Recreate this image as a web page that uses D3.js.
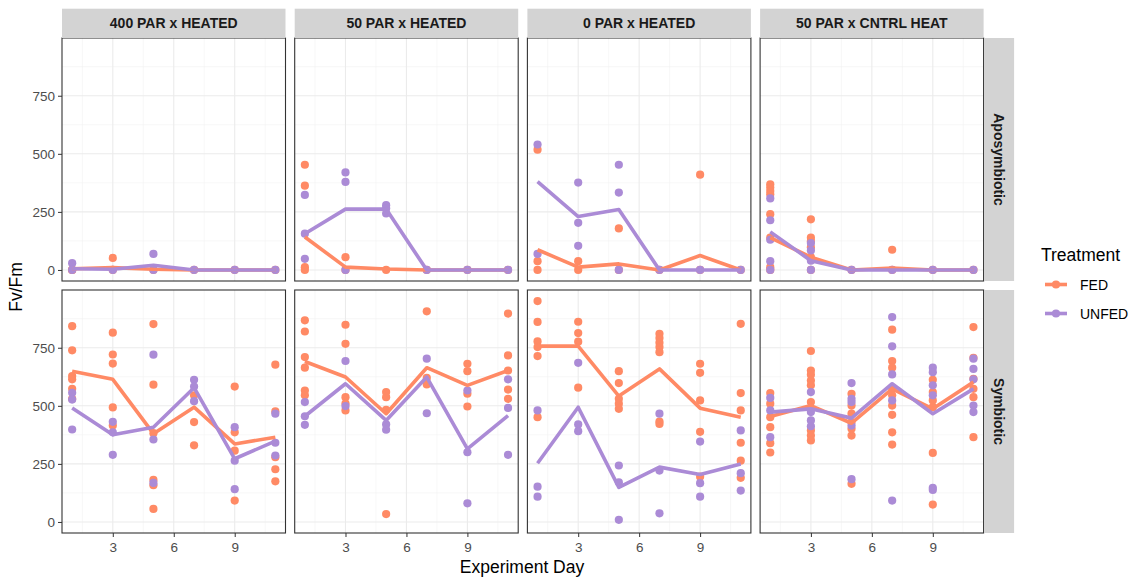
<!DOCTYPE html>
<html>
<head>
<meta charset="utf-8">
<script src="https://cdn.jsdelivr.net/npm/d3@7"></script>
<style>
  body { margin: 0; background: #fff; }
  svg { font-family: "Liberation Sans", Arial, sans-serif; }
</style>
</head>
<body>
<svg width="1134" height="580"></svg>
<script>
// facetten en rijen
const facets = ["400 PAR x HEATED", "50 PAR x HEATED", "0 PAR x HEATED", "50 PAR x CNTRL HEAT"];
const rowsLabels = ["Aposymbiotic", "Symbiotic"];
const days = [1, 3, 5, 7, 9, 11];
const treatments = ["FED", "UNFED"];
const yTicks = [0, 250, 500, 750];
const xTicks = [3, 6, 9];

// losse metingen, per facet een lijst per dag
const aposFedPoints = [
  [[0, 0], [52, 0], [0], [0], [0], [0]],
  [[453, 363, 12, 0], [55, 0], [0], [0], [0], [0]],
  [[518, 38, 0], [38, 0], [179, 0], [0], [410, 0], [0]],
  [[369, 355, 340, 326, 240, 139, 12, 0], [218, 139, 124, 98, 55, 0], [0], [87, 0], [0], [0]]
];
const aposUnfedPoints = [
  [[29, 0], [0], [69, 0], [0], [0], [0]],
  [[323, 156, 48], [420, 379, 0], [279, 265, 243], [0], [0], [0]],
  [[540, 69], [376, 203, 104], [453, 333, 0], [0], [0], [0]],
  [[308, 214, 130, 38, 0], [116, 84, 40, 0], [0], [0], [0], [0]]
];
const symFedPoints = [
  [[843, 739, 628, 614, 573, 530], [815, 721, 682, 493, 415], [852, 591, 382, 181, 158, 56], [545, 430, 330], [583, 386, 307, 92], [677, 476, 279, 227, 175]],
  [[868, 820, 710, 664, 566, 545], [849, 767, 537, 510, 480], [559, 537, 483, 34], [907, 620, 592], [681, 649, 552, 497], [897, 717, 652, 570, 530]],
  [[951, 861, 777, 753, 714, 451], [862, 813, 776, 578], [649, 598, 530, 509, 487], [810, 792, 772, 753, 731, 432, 422], [681, 642, 523, 388, 195], [853, 555, 480, 341, 264, 190]],
  [[555, 509, 451, 408, 339, 299], [736, 652, 634, 609, 588, 516, 394, 372, 351], [552, 501, 466, 430, 401, 372, 164], [828, 693, 664, 573, 545, 501, 461, 386, 333], [612, 559, 523, 494, 297, 75], [839, 707, 616, 573, 537, 365]]
];
const symUnfedPoints = [
  [[556, 527, 398], [431, 386, 289], [720, 355, 168], [612, 583, 520], [408, 264, 141], [466, 341, 286]],
  [[516, 455, 418], [693, 499], [420, 397], [703, 468], [566, 300, 80], [614, 491, 289]],
  [[480, 152, 109], [685, 420, 391], [243, 171, 9], [466, 221, 37], [346, 167, 109], [394, 210, 135]],
  [[534, 480, 365], [559, 473, 437, 412], [598, 530, 516, 415, 184], [882, 756, 635, 523, 92], [664, 645, 588, 545, 147, 138], [703, 659, 614, 501, 473]]
];

// gemiddelden (lijnen)
const aposFedMean = [[5, 10, 3, 0, 0, 0], [142, 12, 4, 0, 0, 0], [87, 12, 26, 0, 62, 0], [139, 55, 0, 8, 0, 0]];
const aposUnfedMean = [[5, 3, 20, 0, 0, 0], [156, 262, 262, 0, 0, 0], [380, 230, 260, 0, 0, 0], [164, 40, 0, 0, 0, 0]];
const symFedMean = [[649, 614, 380, 494, 336, 365], [691, 624, 466, 664, 588, 652], [757, 757, 542, 659, 490, 451], [454, 501, 425, 573, 487, 602]];
const symUnfedMean = [[491, 375, 408, 578, 272, 348], [455, 595, 437, 624, 315, 458], [253, 494, 149, 236, 204, 250], [473, 487, 447, 595, 466, 573]];

const colors = { FED: "#FF8A65", UNFED: "#AB8BD6" };

const pointsByRow = [{ FED: aposFedPoints, UNFED: aposUnfedPoints }, { FED: symFedPoints, UNFED: symUnfedPoints }];
const meansByRow = [{ FED: aposFedMean, UNFED: aposUnfedMean }, { FED: symFedMean, UNFED: symUnfedMean }];

const svg = d3.select("svg");

// layout van de panelen
const panelLeft = 62, panelW = 223.5, colStep = 232.7;
const panelTops = [38, 290], panelH = 243;
const pointR = 4.1, lineW = 3.6;

const y0 = d3.scaleLinear().domain([-47.55, 998.6]);

function drawPanel(ci, ri) {
  const x = d3.scaleLinear().domain([0.5, 11.5]).range([panelLeft + ci * colStep, panelLeft + ci * colStep + panelW]);
  const y = y0.copy().range([panelTops[ri] + panelH, panelTops[ri]]);
  const g = svg.append("g");
  const [xa, xb] = x.range(), [yb, ya] = y.range();

  g.append("rect").attr("x", xa).attr("y", ya).attr("width", panelW).attr("height", panelH).attr("fill", "#fff");

  // grid
  const minorX = [1.5, 4.5, 7.5, 10.5], minorY = [125, 375, 625, 875];
  g.selectAll(".mx").data(minorX).enter().append("line")
    .attr("x1", d => x(d)).attr("x2", d => x(d)).attr("y1", ya).attr("y2", yb)
    .attr("stroke", "#F2F2F2").attr("stroke-width", 0.6);
  g.selectAll(".my").data(minorY).enter().append("line")
    .attr("y1", d => y(d)).attr("y2", d => y(d)).attr("x1", xa).attr("x2", xb)
    .attr("stroke", "#F2F2F2").attr("stroke-width", 0.6);
  g.selectAll(".gx").data(xTicks).enter().append("line")
    .attr("x1", d => x(d)).attr("x2", d => x(d)).attr("y1", ya).attr("y2", yb)
    .attr("stroke", "#EBEBEB").attr("stroke-width", 1.1);
  g.selectAll(".gy").data(yTicks).enter().append("line")
    .attr("y1", d => y(d)).attr("y2", d => y(d)).attr("x1", xa).attr("x2", xb)
    .attr("stroke", "#EBEBEB").attr("stroke-width", 1.1);

  // punten
  treatments.forEach(t => {
    const pts = [];
    pointsByRow[ri][t][ci].forEach((vals, di) => vals.forEach(v => pts.push({ day: days[di], v })));
    g.selectAll(null).data(pts).enter().append("circle")
      .attr("cx", d => x(d.day)).attr("cy", d => y(d.v)).attr("r", pointR)
      .attr("fill", colors[t]);
  });

  // lijnen
  const line = d3.line().x((d, i) => x(days[i])).y(d => y(d));
  treatments.forEach(t => {
    g.append("path").datum(meansByRow[ri][t][ci])
      .attr("d", line).attr("fill", "none")
      .attr("stroke", colors[t]).attr("stroke-width", lineW).attr("stroke-linejoin", "round");
  });

  g.append("rect").attr("x", xa).attr("y", ya).attr("width", panelW).attr("height", panelH)
    .attr("fill", "none").attr("stroke", "#333").attr("stroke-width", 1.1);

  // assen
  if (ci === 0) {
    const ax = g.append("g").attr("transform", `translate(${xa},0)`)
      .call(d3.axisLeft(y).tickValues(yTicks).tickSize(4).tickPadding(3));
    ax.select(".domain").remove();
    ax.selectAll("line").attr("stroke", "#333");
    ax.selectAll("text").attr("fill", "#4D4D4D").style("font-size", "13.5px").style("font-family", "Liberation Sans, Arial");
  }
  if (ri === 1) {
    const ax = g.append("g").attr("transform", `translate(0,${yb})`)
      .call(d3.axisBottom(x).tickValues(xTicks).tickSize(4).tickPadding(5));
    ax.select(".domain").remove();
    ax.selectAll("line").attr("stroke", "#333");
    ax.selectAll("text").attr("fill", "#4D4D4D").style("font-size", "13.5px").style("font-family", "Liberation Sans, Arial");
  }
}

facets.forEach((f, ci) => {
  rowsLabels.forEach((r, ri) => drawPanel(ci, ri));
  // strip boven
  const xa = panelLeft + ci * colStep;
  svg.append("rect").attr("x", xa).attr("y", 8.7).attr("width", panelW).attr("height", 29.3).attr("fill", "#D3D3D3");
  svg.append("text").attr("x", xa + panelW / 2).attr("y", 28)
    .attr("text-anchor", "middle").style("font-size", "14px").style("font-weight", "bold")
    .attr("fill", "#1A1A1A").text(f);
});

// strips rechts
rowsLabels.forEach((r, ri) => {
  const xs = panelLeft + 3 * colStep + panelW + 0.5;
  svg.append("rect").attr("x", xs).attr("y", panelTops[ri]).attr("width", 30).attr("height", panelH).attr("fill", "#D3D3D3");
  svg.append("text").attr("transform", `translate(${xs + 10},${panelTops[ri] + panelH / 2}) rotate(90)`)
    .attr("text-anchor", "middle").style("font-size", "14px").style("font-weight", "bold")
    .attr("fill", "#1A1A1A").text(r);
});

// as-titels
svg.append("text").attr("transform", "translate(22,287) rotate(-90)")
  .attr("text-anchor", "middle").style("font-size", "17.5px").attr("fill", "#000").text("Fv/Fm");
svg.append("text").attr("x", 522).attr("y", 573)
  .attr("text-anchor", "middle").style("font-size", "17.5px").attr("fill", "#000").text("Experiment Day");

// legenda
const leg = svg.append("g");
leg.append("text").attr("x", 1041).attr("y", 261).style("font-size", "17.5px").attr("fill", "#000").text("Treatment");
treatments.forEach((t, i) => {
  const cy = 284.5 + i * 29;
  leg.append("line").attr("x1", 1045).attr("x2", 1067).attr("y1", cy).attr("y2", cy)
    .attr("stroke", colors[t]).attr("stroke-width", lineW);
  leg.append("circle").attr("cx", 1056).attr("cy", cy).attr("r", pointR).attr("fill", colors[t]);
  leg.append("text").attr("x", 1080).attr("y", cy + 5).style("font-size", "14px").attr("fill", "#000").text(t);
});
</script>
</body>
</html>
